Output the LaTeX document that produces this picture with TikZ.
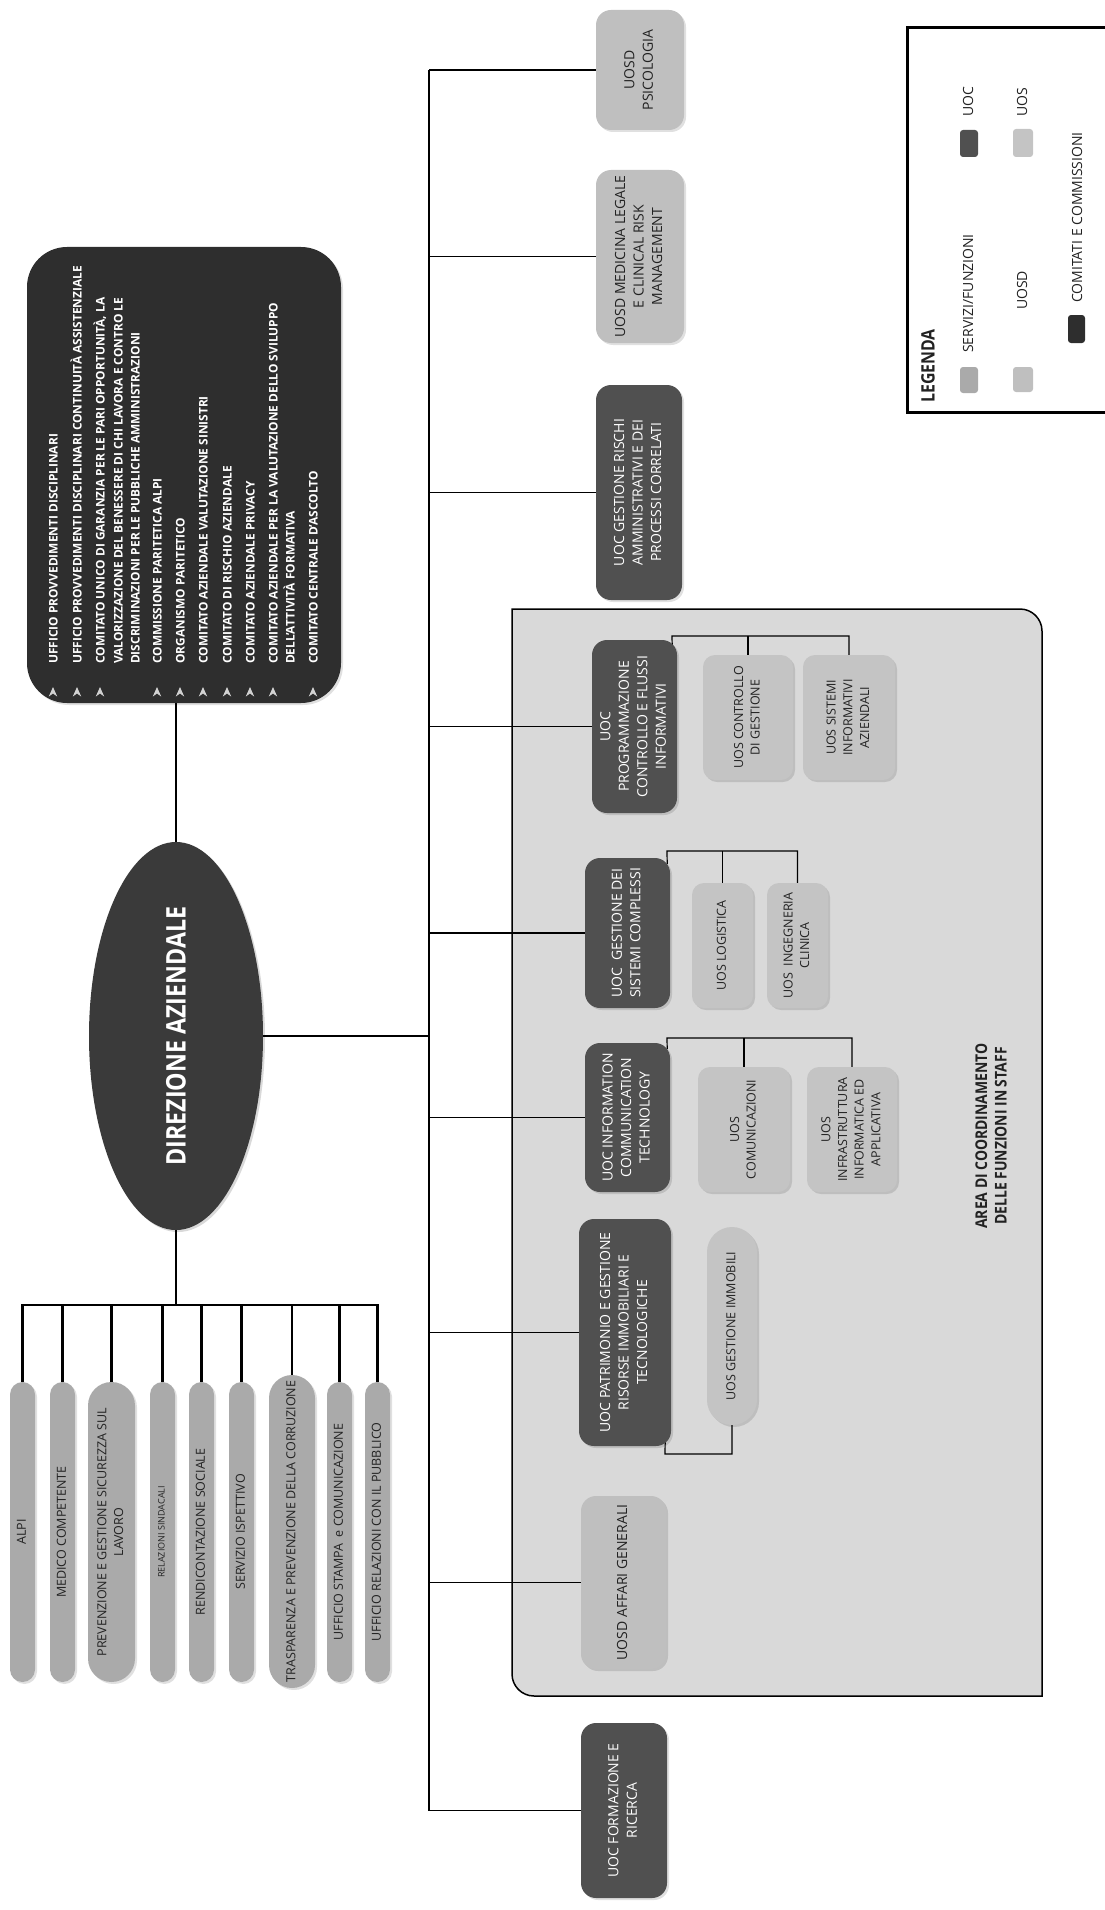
\documentclass[tikz,border=0pt]{standalone}
\usepackage{fontspec}
\setmainfont{Open Sans}
\newfontfamily\cbf[FakeStretch=0.86]{Open Sans}
\usetikzlibrary{shapes.geometric,shadows}
\definecolor{uoc}{HTML}{505050}
\definecolor{uosd}{HTML}{BFBFBF}
\definecolor{uos}{HTML}{C4C4C4}
\definecolor{serv}{HTML}{AAAAAA}
\definecolor{comit}{HTML}{2E2E2E}
\definecolor{dirc}{HTML}{3A3A3A}
\definecolor{areabg}{HTML}{D9D9D9}
\definecolor{txt}{HTML}{222222}
\definecolor{bul}{HTML}{D2D2D2}
\newcommand\rt[1]{\rotatebox{90}{\begin{tabular}{@{}c@{}}#1\end{tabular}}}
\newcommand\fA{\fontsize{14}{18.5}\selectfont}
\newcommand\fB{\fontsize{12.5}{16.7}\selectfont}
\newcommand\bx[7]{\node[#2, minimum width={#5-#3}, minimum height={#6-#4}] (#1) at ({(#3+#5)/2},{(#4+#6)/2}) {\rt{#7}};}
\pgfdeclarelayer{arealayer}
\pgfdeclarelayer{linelayer}
\pgfsetlayers{arealayer,linelayer,main}
\tikzset{
  boxbase/.style={rectangle, inner sep=0pt, drop shadow={shadow xshift=2pt, shadow yshift=-2pt, fill=black, opacity=0.12}},
  uocbox/.style={boxbase, fill=uoc, rounded corners=15pt, text=white, font=\fA},
  uosdbox/.style={boxbase, fill=uosd, rounded corners=15pt, text=txt, font=\fA},
  uosbox/.style={boxbase, fill=uos, rounded corners=12pt, text=txt, font=\fB},
  pill/.style={boxbase, fill=serv, text=txt, font=\fB},
  ctext/.style={rotate=90, anchor=base west, inner sep=0pt, text=white, font=\fontsize{11.9}{14}\selectfont\bfseries},
  legtext/.style={rotate=90, anchor=west, inner sep=0pt, text=txt, font=\fontsize{14}{17}\selectfont},
  ln/.style={line width=1.2pt, black},
  busln/.style={line width=2.5pt, black},
}
\begin{document}
\begin{tikzpicture}[x=1pt,y=-1pt]
\useasboundingbox (0,0) rectangle (1104,1910);

% ---------- Direzione ----------
\node[ellipse, fill=dirc, minimum width=174pt, minimum height=388pt, inner sep=0pt,
      drop shadow={shadow xshift=2pt, shadow yshift=-2pt, fill=black, opacity=0.15}]
  (dir) at (176,1036) {\rotatebox{90}{\cbf\bfseries\fontsize{27}{30}\selectfont\color{white}DIREZIONE AZIENDALE}};

% ---------- Comitati ----------
\node[boxbase, fill=comit, rounded corners=40pt, minimum width=314pt, minimum height=456pt] (com) at (184,475) {};
\foreach \x/\t [count=\i] in {
  57.5/{UFFICIO PROVVEDIMENTI DISCIPLINARI},
  81.5/{UFFICIO PROVVEDIMENTI DISCIPLINARI CONTINUITÀ ASSISTENZIALE},
  104.5/{COMITATO UNICO DI GARANZIA PER LE PARI OPPORTUNITÀ, LA},
  122.5/{VALORIZZAZIONE DEL BENESSERE DI CHI LAVORA E CONTRO LE},
  139.5/{DISCRIMINAZIONI PER LE PUBBLICHE AMMINISTRAZIONI},
  161.5/{COMMISSIONE PARITETICA ALPI},
  184.5/{ORGANISMO PARITETICO},
  207.5/{COMITATO AZIENDALE VALUTAZIONE SINISTRI},
  231.5/{COMITATO DI RISCHIO AZIENDALE},
  254.5/{COMITATO AZIENDALE PRIVACY},
  277.5/{COMITATO AZIENDALE PER LA VALUTAZIONE DELLO SVILUPPO},
  294.5/{DELL’ATTIVITÀ FORMATIVA},
  317.5/{COMITATO CENTRALE D’ASCOLTO}}
  \node[ctext] (c\i) at (\x,664) {\t};
\foreach \x in {53,77,100,157,180,203,227,250,273,313}
  \fill[bul] (\x,687) -- (\x+4.2,696.5) -- (\x,693.5) -- (\x-4.2,696.5) -- cycle;

% ---------- Servizi / funzioni (pills) ----------
\bx{p1}{pill, rounded corners=12.5pt}{10}{1382}{35}{1682}{ALPI}
\bx{p2}{pill, rounded corners=12.5pt}{50}{1382}{75}{1682}{MEDICO COMPETENTE}
\bx{p3}{pill, rounded corners=23.5pt}{88}{1382}{135}{1682}{PREVENZIONE E GESTIONE SICUREZZA SUL\\LAVORO}
\bx{p4}{pill, rounded corners=12.5pt, font=\fontsize{9}{11}\selectfont}{150}{1382}{175}{1682}{RELAZIONI SINDACALI}
\bx{p5}{pill, rounded corners=12.5pt}{189}{1382}{214}{1682}{RENDICONTAZIONE SOCIALE}
\bx{p6}{pill, rounded corners=12.5pt}{229}{1382}{254}{1682}{SERVIZIO ISPETTIVO}
\bx{p7}{pill, rounded corners=23pt}{269}{1375}{315}{1688}{TRASPARENZA E PREVENZIONE DELLA CORRUZIONE}
\bx{p8}{pill, rounded corners=12.5pt}{327}{1382}{352}{1682}{UFFICIO STAMPA~ e COMUNICAZIONE}
\bx{p9}{pill, rounded corners=12.5pt}{365}{1382}{390}{1682}{UFFICIO RELAZIONI CON IL PUBBLICO}
\coordinate (busy) at (0,1305);

% ---------- Staff column ----------
\bx{psi}{uosdbox}{596}{10}{684}{130}{UOSD\\PSICOLOGIA}
\bx{med}{uosdbox}{596}{170}{684}{343}{UOSD MEDICINA LEGALE\\E CLINICAL RISK\\MANAGEMENT}
\bx{ris}{uocbox}{596}{385}{682}{600}{UOC GESTIONE RISCHI\\AMMINISTRATIVI E DEI\\PROCESSI CORRELATI}
\bx{prog}{uocbox}{592}{640}{677}{813}{UOC\\PROGRAMMAZIONE\\CONTROLLO E FLUSSI\\INFORMATIVI}
\bx{ucg}{uosbox}{703}{655}{793}{780}{UOS CONTROLLO\\DI GESTIONE}
\bx{usi}{uosbox}{803}{655}{895}{780}{UOS SISTEMI\\INFORMATIVI\\AZIENDALI}
\bx{gsc}{uocbox}{585}{858}{670}{1008}{UOC~ GESTIONE DEI\\SISTEMI COMPLESSI}
\bx{ulo}{uosbox}{692}{883}{753}{1008}{UOS LOGISTICA}
\bx{uin}{uosbox}{767}{883}{828}{1008}{UOS~ INGEGNERIA\\CLINICA}
\bx{ict}{uocbox}{585}{1043}{670}{1192}{UOC INFORMATION\\COMMUNICATION\\TECHNOLOGY}
\bx{ucom}{uosbox}{698}{1067}{790}{1192}{UOS\\COMUNICAZIONI}
\bx{uinf}{uosbox}{807}{1067}{897}{1192}{UOS\\INFRASTRUTTURA\\INFORMATICA ED\\APPLICATIVA}
\bx{patr}{uocbox}{579}{1219}{671}{1446}{UOC PATRIMONIO E GESTIONE\\RISORSE IMMOBILIARI E\\TECNOLOGICHE}
\bx{uim}{uosbox, rounded corners=25pt}{707}{1227}{757}{1425}{UOS GESTIONE IMMOBILI}
\bx{aff}{uosdbox}{581}{1496}{666}{1669}{UOSD AFFARI GENERALI}
\bx{form}{uocbox}{581}{1723}{667}{1898}{UOC FORMAZIONE E\\RICERCA}

\node[inner sep=0pt, text=txt] (arealbl) at (993,1136)
  {\rotatebox{90}{\cbf\bfseries\fontsize{16.2}{19.6}\selectfont\begin{tabular}{@{}c@{}}AREA DI COORDINAMENTO\\DELLE FUNZIONI IN STAFF\end{tabular}}};

% ---------- Legenda ----------
\draw[line width=3pt] (907,28) rectangle (1110,412);
\node[rotate=90, anchor=west, inner sep=0pt, text=txt] (leg) at (928,403)
  {\cbf\bfseries\fontsize{18.5}{20}\selectfont LEGENDA};
\fill[serv, rounded corners=3pt] (960,367) rectangle (978,393);
\node[legtext] (lserv) at (968,353) {SERVIZI/FUNZIONI};
\fill[uoc, rounded corners=3pt] (960,130) rectangle (978,157);
\node[legtext] (luoc) at (968,117) {UOC};
\fill[uosd, rounded corners=3pt] (1013,367) rectangle (1033,392);
\node[legtext] (luosd) at (1022,310) {UOSD};
\fill[uos, rounded corners=3pt] (1013,129) rectangle (1033,157);
\node[legtext] (luos) at (1022,117) {UOS};
\fill[comit, rounded corners=3pt] (1068,315) rectangle (1085,343);
\node[legtext] (lcom) at (1077,303) {COMITATI E COMMISSIONI};

% ---------- Area background ----------
\begin{pgfonlayer}{arealayer}
\path[fill=areabg, draw=black, line width=1.5pt]
  (512,609) -- (1020,609) .. controls (1032.1,609) and (1042,618.9) .. (1042,631)
  -- (1042,1696) -- (534,1696) .. controls (521.9,1696) and (512,1686.1) .. (512,1674) -- cycle;
\end{pgfonlayer}

% ---------- Connectors ----------
\begin{pgfonlayer}{linelayer}
\coordinate (tr) at (429,0);
\draw[ln] (psi.west -| tr) -- (form.west -| tr);
\foreach \n in {psi,med,ris,prog,gsc,ict,patr,aff,form}
  \draw[ln] (\n.west) -- (\n.west -| tr);
\draw[ln] (dir.east) -- (dir.east -| tr);
\draw[ln] (dir.north) -- (dir.north |- com.south);
\draw[busln] (dir.south) -- (dir.south |- busy);
\draw[busln, line cap=rect] (p1.north |- busy) -- (p9.north |- busy);
\foreach \n in {p1,p2,p3,p4,p5,p6,p7,p8,p9}
  \draw[busln] (\n.north) -- (\n.north |- busy);
% programmazione
\coordinate (pj) at (672,636);
\draw[ln] ([xshift=-5pt,yshift=-6pt]prog.north east) -- (pj) -| (usi.north);
\draw[ln] (ucg.north) -- (ucg.north |- pj);
% sistemi complessi
\coordinate (gj) at (667,851);
\draw[ln] ([xshift=-3pt,yshift=-6pt]gsc.north east) -- (gj) -| (uin.north);
\draw[ln] (ulo.north) -- (ulo.north |- gj);
% ICT
\coordinate (ij) at (667,1038);
\draw[ln] ([xshift=-3pt,yshift=-6pt]ict.north east) -- (ij) -| (uinf.north);
\draw[ln] (ucom.north) -- (ucom.north |- ij);
% patrimonio
\coordinate (mj) at (665,1454);
\draw[ln] ([xshift=-6pt,yshift=6pt]patr.south east) -- (mj) -| (uim.south);
\end{pgfonlayer}
\end{tikzpicture}
\end{document}
